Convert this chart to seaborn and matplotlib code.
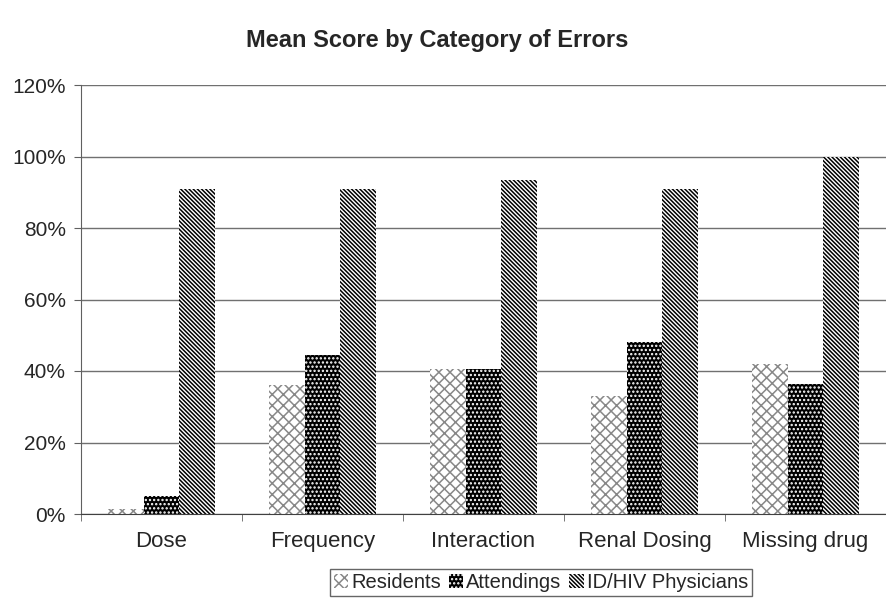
import numpy as np
import pandas as pd
import matplotlib
matplotlib.use("Agg")
import matplotlib.pyplot as plt
import seaborn as sns
from matplotlib.patches import Patch

categories = ["Dose", "Frequency", "Interaction", "Renal Dosing", "Missing drug"]
groups = ["Residents", "Attendings", "ID/HIV Physicians"]
residents = [1.5, 36, 40.5, 33, 42]
attendings = [5, 44.5, 40.5, 48, 36.5]
id_hiv = [91, 91, 93.5, 91, 100]
y_ticks = [0, 20, 40, 60, 80, 100, 120]

df = pd.DataFrame({
    "category": categories * 3,
    "group": [g for g in groups for _ in categories],
    "score": residents + attendings + id_hiv,
})

sns.set_style("white")
plt.rcParams["font.family"] = ["Liberation Sans", "DejaVu Sans"]
plt.rcParams["hatch.linewidth"] = 1.1

fig = plt.figure(figsize=(8.86, 6), dpi=100)
ax = fig.add_axes([81 / 886, 1 - 514 / 600, 805 / 886, 429 / 600])

sns.barplot(data=df, x="category", y="score", hue="group", order=categories,
            hue_order=groups, width=0.665, gap=0, ax=ax, legend=False,
            palette=["white", "black", "white"], linewidth=0, saturation=1)

BS = chr(92)  # backslash
# fill styles per series: (face, hatch colour, hatch)
styles = [("white", "#888888", "xxx"),
          ("black", "white", "...."),
          ("white", "black", BS * 8)]
for cont, (fc, hc, h) in zip(ax.containers, styles):
    for bar in cont:
        bar.set_facecolor(fc)
        bar.set_edgecolor(hc)
        bar.set_hatch(h)
        bar.set_linewidth(0)

ax.set_ylim(0, 120)
ax.set_xlim(-0.5, 4.5)
ax.set_yticks(y_ticks)
ax.set_yticklabels([f"{t}%" for t in y_ticks], fontsize=15)
ax.tick_params(axis="y", left=True, length=5, color="#606060", pad=6)
ax.set_xticks(range(len(categories)))
ax.set_xticklabels(categories, fontsize=16)
ax.set_xticks(np.arange(-0.5, 5, 1), minor=True)
ax.tick_params(axis="x", which="major", length=0, pad=12)
ax.tick_params(axis="x", which="minor", bottom=True, length=5, color="#606060")
ax.yaxis.grid(True, color="#707070", lw=1)
ax.set_axisbelow(True)
ax.set_xlabel("")
ax.set_ylabel("")
for s in ["top", "right"]:
    ax.spines[s].set_visible(False)
ax.spines["left"].set_color("#606060")
ax.spines["bottom"].set_color("#404040")

fig.text(0.493, 1 - 40 / 600, "Mean Score by Category of Errors", fontsize=17,
         fontweight="bold", ha="center", va="center")

handles = [Patch(facecolor=fc, edgecolor=hc, hatch=h, lw=0) for fc, hc, h in styles]
leg = fig.legend(handles, groups, loc="lower center", bbox_to_anchor=(541 / 886, 0.0),
                 ncol=3, fontsize=14.5, frameon=True, fancybox=False,
                 handlelength=0.7, handleheight=0.7, handletextpad=0.15,
                 columnspacing=0.4, borderpad=0.2, borderaxespad=0.2)
leg.get_frame().set_edgecolor("#404040")
leg.get_frame().set_linewidth(1)

fig.savefig("out.png", dpi=100)
